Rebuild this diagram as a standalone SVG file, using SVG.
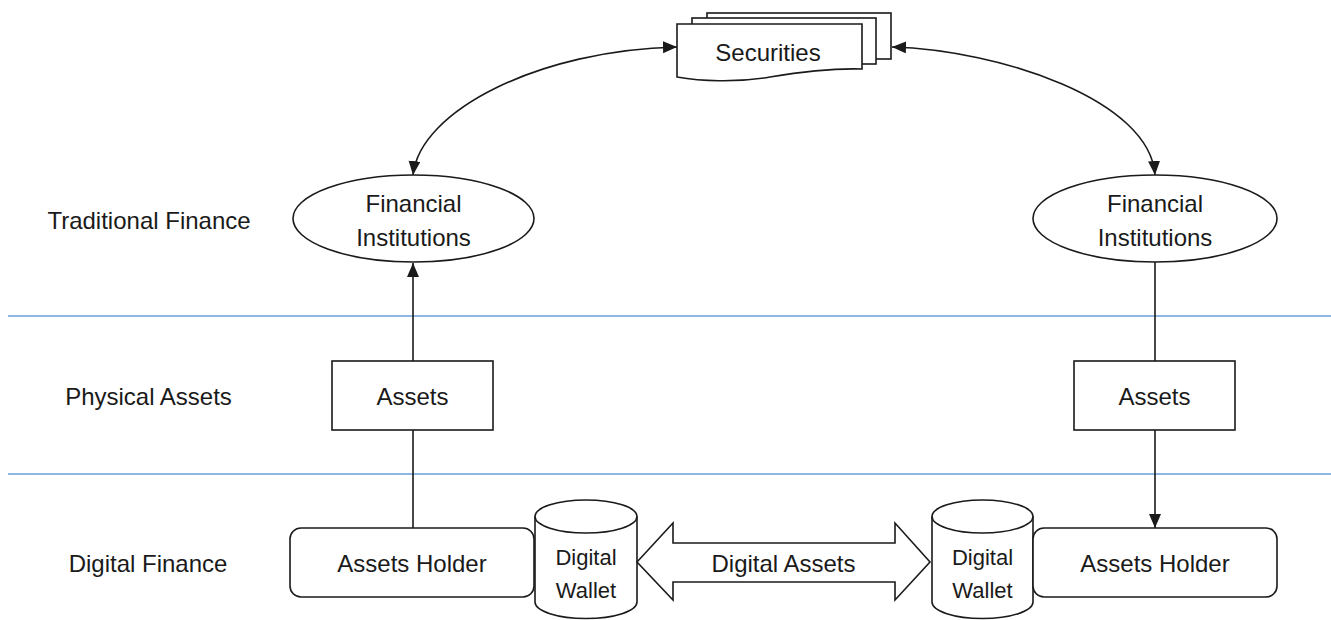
<svg xmlns="http://www.w3.org/2000/svg" width="1331" height="620" viewBox="0 0 1331 620">
  <style>
    .shape { fill: #ffffff; stroke: #1a1a1a; stroke-width: 1.6; }
    .line { fill: none; stroke: #1a1a1a; stroke-width: 1.6; }
    .lane { stroke: #6a9fd8; stroke-width: 1.6; }
    text { font-family: "Liberation Sans", Arial, sans-serif; font-size: 24px; fill: #1a1a1a; text-anchor: middle; }
    .small { font-size: 22px; }
  </style>
  <defs>
    <marker id="arrow" markerUnits="userSpaceOnUse" markerWidth="15" markerHeight="13" refX="14" refY="6" orient="auto-start-reverse">
      <path d="M0,0 L14,6 L0,12 Z" fill="#1a1a1a"/>
    </marker>
  </defs>

  <rect width="1331" height="620" fill="#ffffff"/>

  <!-- swim-lane separators -->
  <g id="lanes">
    <line class="lane" x1="8" y1="316" x2="1331" y2="316"/>
    <line class="lane" x1="8" y1="474" x2="1331" y2="474"/>
  </g>

  <!-- lane labels -->
  <g id="lane-labels">
    <text x="149" y="228.5">Traditional Finance</text>
    <text x="148.5" y="405">Physical Assets</text>
    <text x="148" y="571.5">Digital Finance</text>
  </g>

  <!-- connectors -->
  <g id="connectors">
    <path class="line" d="M677,47 C540,50 420,110 413,175" marker-start="url(#arrow)" marker-end="url(#arrow)"/>
    <path class="line" d="M892,47 C1000,50 1150,100 1155,175" marker-start="url(#arrow)" marker-end="url(#arrow)"/>
    <line class="line" x1="413" y1="361" x2="413" y2="263" marker-end="url(#arrow)"/>
    <line class="line" x1="413" y1="430" x2="413" y2="528"/>
    <line class="line" x1="1155" y1="262" x2="1155" y2="361"/>
    <line class="line" x1="1155" y1="430" x2="1155" y2="528" marker-end="url(#arrow)"/>
  </g>

  <!-- stacked document -->
  <g id="securities">
    <rect class="shape" x="707" y="13" width="184" height="46"/>
    <rect class="shape" x="692" y="18" width="184" height="46"/>
    <path class="shape" d="M677,24 H862 V69 C830,68 800,72 770,77 C735,83 700,81 677,77 Z"/>
    <text x="768" y="60.5">Securities</text>
  </g>

  <g id="fi-left">
    <ellipse class="shape" cx="413.5" cy="218.5" rx="120.5" ry="43.5"/>
    <text x="413.5" y="211.5">Financial</text>
    <text x="413.5" y="245.5">Institutions</text>
  </g>

  <g id="fi-right">
    <ellipse class="shape" cx="1155" cy="218.5" rx="122" ry="43.5"/>
    <text x="1155" y="211.5">Financial</text>
    <text x="1155" y="245.5">Institutions</text>
  </g>

  <g id="assets-left">
    <rect class="shape" x="332" y="361" width="161" height="69"/>
    <text x="412.5" y="404.5">Assets</text>
  </g>

  <g id="assets-right">
    <rect class="shape" x="1074" y="361" width="161" height="69"/>
    <text x="1154.5" y="404.5">Assets</text>
  </g>

  <g id="holder-left">
    <rect class="shape" x="290" y="528" width="244" height="69" rx="11"/>
    <text x="412" y="571.5">Assets Holder</text>
  </g>

  <g id="wallet-left">
    <path class="shape" d="M535,516.5 V602 A51,16.5 0 0 0 637,602 V516.5 A51,16.5 0 0 0 535,516.5 Z"/>
    <path class="line" d="M535,516.5 A51,16.5 0 0 0 637,516.5"/>
    <text class="small" x="586" y="565">Digital</text>
    <text class="small" x="586" y="598">Wallet</text>
  </g>

  <g id="digital-assets">
    <path class="shape" d="M637,562 L673,523 V543 H895 V523 L930,562 L895,600 V582 H673 V600 Z"/>
    <text x="783.5" y="571.5">Digital Assets</text>
  </g>

  <g id="wallet-right">
    <path class="shape" d="M932,516.5 V602 A50.5,16.5 0 0 0 1033,602 V516.5 A50.5,16.5 0 0 0 932,516.5 Z"/>
    <path class="line" d="M932,516.5 A50.5,16.5 0 0 0 1033,516.5"/>
    <text class="small" x="982.5" y="565">Digital</text>
    <text class="small" x="982.5" y="598">Wallet</text>
  </g>

  <g id="holder-right">
    <rect class="shape" x="1033" y="528" width="244" height="69" rx="11"/>
    <text x="1155" y="571.5">Assets Holder</text>
  </g>
</svg>
